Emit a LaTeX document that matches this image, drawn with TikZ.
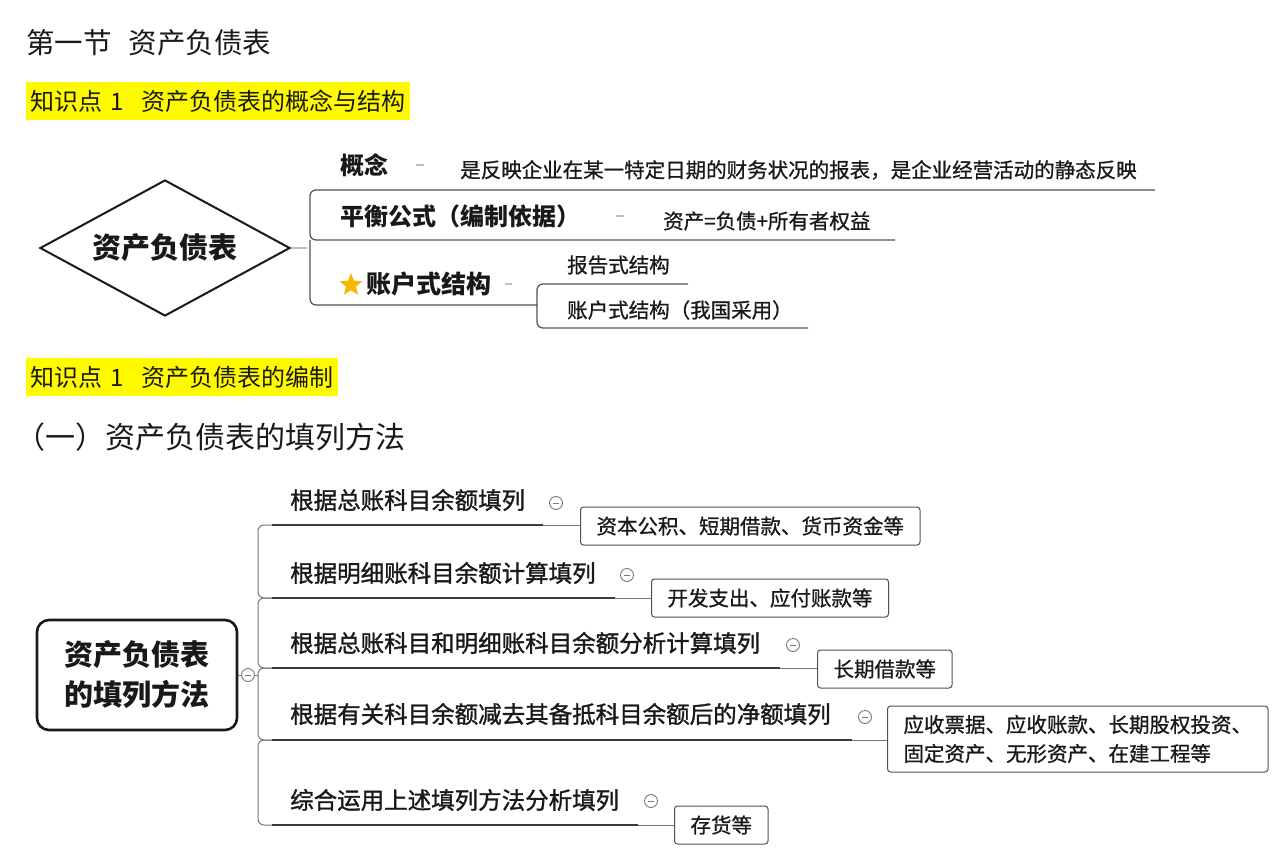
\documentclass[tikz,border=0pt]{standalone}
\usepackage{fontspec}
\newfontfamily\cjk{Noto Sans CJK SC}
\newfontfamily\cjkm[FakeBold=1.3]{Noto Sans CJK SC}
\newfontfamily\cjks[FakeBold=0.8]{Noto Sans CJK SC}
\usetikzlibrary{shapes.geometric}
\definecolor{hl}{RGB}{255,250,0}
\definecolor{txt}{RGB}{25,25,25}
\definecolor{ln}{RGB}{80,80,80}
\definecolor{br}{RGB}{120,120,120}
\definecolor{starc}{RGB}{245,185,0}
\definecolor{faint}{RGB}{185,190,200}
\newcommand{\fs}[1]{\fontsize{#1}{#1}\selectfont}
\tikzset{
  x=1pt, y=-1pt,
  every node/.style={text=txt, inner sep=0pt},
  head/.style={anchor=west, font=\cjk\fs{28.5}},
  hlbox/.style={anchor=west, fill=hl, inner xsep=4pt, minimum height=38pt, font=\cjk\fs{24}},
  topbr/.style={anchor=west, font=\cjk\bfseries\fs{24}},
  topch/.style={anchor=west, font=\cjks\fs{20.5}},
  toplink/.style={draw=ln, line width=1.2pt, rounded corners=6pt},
  faintdash/.style={draw=faint, line width=1.2pt},
  botbr/.style={anchor=west, font=\cjkm\fs{23.5}},
  botch/.style={anchor=west, draw=ln, line width=1pt, rounded corners=3pt, inner xsep=16pt, minimum height=38pt, font=\cjks\fs{20.5}, align=left},
  brk/.style={draw=br, line width=1pt, rounded corners=6pt},
  uline/.style={draw=txt!85, line width=2.6pt},
  chline/.style={draw=br, line width=1pt},
  fold/.style={circle, draw=br, line width=0.9pt, minimum size=13pt, path picture={\draw[br, line width=0.8pt] ([xshift=-3pt]path picture bounding box.center) -- ([xshift=3pt]path picture bounding box.center);}},
}
\begin{document}
\begin{tikzpicture}
\useasboundingbox (0,0) rectangle (1280,859);
\fill[white] (0,0) rectangle (1280,859);

% headings
\node[head] (h1) at (26,43) {第一节\hspace{0.6em}资产负债表};
\node[hlbox] (k1) at (26,101) {知识点\hspace{0.35em}1\hspace{0.75em}资产负债表的概念与结构};
\node[hlbox] (k2) at (26,377) {知识点\hspace{0.35em}1\hspace{0.75em}资产负债表的编制};
\node[head, font=\cjk\fs{30}] (h2) at (15,437) {（一）资产负债表的填列方法};

% ---------- top mind map ----------
\node[diamond, aspect=1.84, draw=txt, line width=2pt, minimum width=250pt, minimum height=136pt, font=\cjk\bfseries\fs{29}] (dia) at (165,248) {资产负债表};

\node[topbr] (gn) at (340,165) {概念};
\node[topch] (gnc) at (460,170) {是反映企业在某一特定日期的财务状况的报表，是企业经营活动的静态反映};
\node[topbr] (ph) at (340,216) {平衡公式（编制依据）};
\node[topch] (phc) at (663,221) {资产=负债+所有者权益};
\node[star, star points=5, star point ratio=2.3, fill=starc, minimum size=24pt] (st) at (351,285) {};
\node[topbr, font=\cjk\bfseries\fs{25}] (zh) at (366,284) {账户式结构};
\node[topch] (bg) at (567,265) {报告式结构};
\node[topch] (zh2) at (567,310) {账户式结构（我国采用）};

\coordinate (j1) at (310,190);
\coordinate (j2) at (310,240);
\coordinate (j3) at (310,305);
\coordinate (e1) at (1155,190);
\coordinate (e2) at (895,240);
\coordinate (s1) at (537,284);
\coordinate (s2) at (537,328);
\coordinate (s0) at (537,305);
\coordinate (f1) at (688,284);
\coordinate (f2) at (808,328);

\draw[toplink] (e1) -- (j1) -- (j2) -- (e2);
\draw[toplink] (j2) -- (j3) -- (s0);
\draw[toplink] (f1) -- (s1) -- (s0);
\draw[toplink] (s0) -- (s2) -- (f2);
\draw[faintdash] (dia.east) -- ([xshift=-3pt]dia.east -| j2);
\draw[faintdash] ([xshift=28pt]gn.east) -- ([xshift=36pt]gn.east);
\draw[faintdash] ([xshift=36pt]ph.east) -- ([xshift=44pt]ph.east);
\draw[faintdash] ([xshift=14pt]zh.east) -- ([xshift=21pt]zh.east);

% ---------- bottom mind map ----------
\node[draw=txt, line width=2.6pt, rounded corners=12pt, minimum width=200pt, minimum height=110pt, align=center, font=\cjk\bfseries\fs{29}] (root) at (137,675) {资产负债表\\[11pt]的填列方法};
\node[fold] (rf) at (248,675) {};

\node[botbr] (b1) at (290,500) {根据总账科目余额填列};
\node[botbr] (b2) at (290,573) {根据明细账科目余额计算填列};
\node[botbr] (b3) at (290,643) {根据总账科目和明细账科目余额分析计算填列};
\node[botbr] (b4) at (290,714) {根据有关科目余额减去其备抵科目余额后的净额填列};
\node[botbr] (b5) at (290,800) {综合运用上述填列方法分析填列};

\node[fold] (c1) at (556,503) {};
\node[fold] (c2) at (627,575) {};
\node[fold] (c3) at (793,645) {};
\node[fold] (c4) at (865,717) {};
\node[fold] (c5) at (651,801) {};

\node[botch] (d1) at (580,526) {资本公积、短期借款、货币资金等};
\node[botch] (d2) at (651,598) {开发支出、应付账款等};
\node[botch] (d3) at (817,669) {长期借款等};
\node[botch, minimum height=66pt] (d4) at (887,739) {应收票据、应收账款、长期股权投资、\\[8.5pt]固定资产、无形资产、在建工程等};
\node[botch] (d5) at (674,825) {存货等};

\coordinate (v1) at (258,525);
\coordinate (v2) at (258,598);
\coordinate (v3) at (258,668);
\coordinate (v4) at (258,740);
\coordinate (v5) at (258,825);
\coordinate (u1) at (272,525);
\coordinate (u2) at (272,598);
\coordinate (u3) at (272,668);
\coordinate (u4) at (272,740);
\coordinate (u5) at (272,825);
\coordinate (w1) at (543,525);
\coordinate (w2) at (615,598);
\coordinate (w3) at (780,668);
\coordinate (w4) at (852,740);
\coordinate (w5) at (638,825);

\draw[brk] (u1) -- (v1) -- (v2) -- (u2);
\draw[brk] (u2) -- (v2) -- (v3) -- (u3);
\draw[brk] (u3) -- (v3) -- (v4) -- (u4);
\draw[brk] (u4) -- (v4) -- (v5) -- (u5);
\draw[chline] (root.east) -- (rf.west);
\draw[chline] (rf.east) -- (rf.east -| v1);

\draw[uline] (u1) -- (w1);
\draw[uline] (u2) -- (w2);
\draw[uline] (u3) -- (w3);
\draw[uline] (u4) -- (w4);
\draw[uline] (u5) -- (w5);

\draw[chline] (w1) -- (w1 -| d1.west);
\draw[chline] (w2) -- (w2 -| d2.west);
\draw[chline] (w3) -- (w3 -| d3.west);
\draw[chline] (w4) -- (w4 -| d4.west);
\draw[chline] (w5) -- (w5 -| d5.west);
\end{tikzpicture}
\end{document}
